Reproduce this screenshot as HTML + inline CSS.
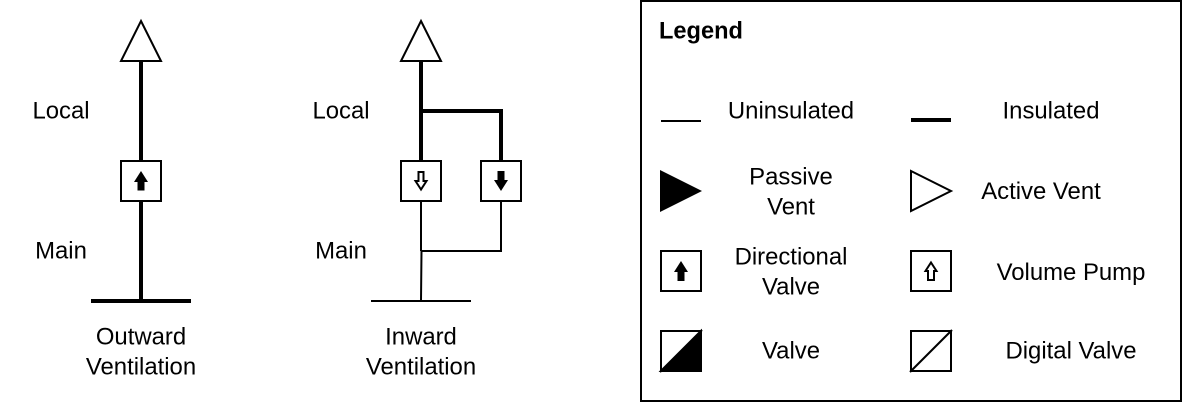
<!DOCTYPE html>
<html>
<head>
<meta charset="utf-8">
<style>
html,body{margin:0;padding:0;background:#fff;width:1182px;height:402px;overflow:hidden}
svg{display:block}
text{font-family:"Liberation Sans",Arial,sans-serif;font-size:23.9px;fill:#000;text-anchor:middle}
</style>
</head>
<body>
<svg width="1182" height="402" viewBox="0 0 1182 402" xmlns="http://www.w3.org/2000/svg">
<g fill="none" stroke="#000" stroke-width="2">
<!-- Outward -->
<path d="M141 21 L161 61 L121 61 Z" fill="#fff"/>
<path d="M141 61 V161 M141 201 V301" stroke-width="4"/>
<path d="M91 301 H191" stroke-width="4"/>
<rect x="121" y="161" width="40" height="40" fill="#fff"/>
<path d="M141 171 L148 182 H144.5 V190.5 H137.5 V182 H134 Z" fill="#000" stroke="none"/>
<!-- Inward -->
<path d="M421 61 V161" stroke-width="4"/>
<path d="M421 111 H501 V161" stroke-width="4"/>
<path d="M421 201 V251 M501 201 V251 H421 M421.5 251 L421 301"/>
<path d="M371 301 H471"/>
<path d="M421 21 L441 61 L401 61 Z" fill="#fff"/>
<rect x="401" y="161" width="40" height="40" fill="#fff"/>
<rect x="481" y="161" width="40" height="40" fill="#fff"/>
<path d="M421 189.5 L415.5 181 H418.5 V172 H423.5 V181 H426.5 Z" stroke-width="2"/>
<path d="M501 191 L508 180 H504.5 V171 H497.5 V180 H494 Z" fill="#000" stroke="none"/>
<!-- Legend frame -->
<rect x="641" y="1" width="540" height="400"/>
<path d="M661 121 H701"/>
<path d="M911 120 H951" stroke-width="4"/>
<path d="M660 170 L702 191 L660 212 Z" fill="#000" stroke="none"/>
<path d="M911 171 L951 191 L911 211 Z"/>
<rect x="661" y="251" width="40" height="40"/>
<path d="M681 261 L688 272 H684.5 V281 H677.5 V272 H674 Z" fill="#000" stroke="none"/>
<rect x="911" y="251" width="40" height="40"/>
<path d="M931 262.5 L936.5 271 H934 V280 H928 V271 H925.5 Z" stroke-width="2"/>
<rect x="661" y="331" width="40" height="40"/>
<path d="M661 371 L701 331 V371 Z" fill="#000"/>
<path d="M660 372 L702 330"/>
<rect x="911" y="331" width="40" height="40"/>
<path d="M910 372 L952 330"/>
</g>
<text x="61" y="118.5">Local</text>
<text x="61" y="258.5">Main</text>
<text x="141" y="344.5">Outward</text>
<text x="141" y="374.5">Ventilation</text>
<text x="341" y="118.5">Local</text>
<text x="341" y="258.5">Main</text>
<text x="421" y="344.5">Inward</text>
<text x="421" y="374.5">Ventilation</text>
<text x="659" y="38.5" style="text-anchor:start;font-weight:bold;font-size:23.6px">Legend</text>
<text x="791" y="118.5">Uninsulated</text>
<text x="1051" y="118.5">Insulated</text>
<text x="791" y="184.5">Passive</text>
<text x="791" y="214.5">Vent</text>
<text x="1041" y="199">Active Vent</text>
<text x="791" y="264.5">Directional</text>
<text x="791" y="294.5">Valve</text>
<text x="1071" y="280">Volume Pump</text>
<text x="791" y="358.5">Valve</text>
<text x="1071" y="358.5">Digital Valve</text>
</svg>
</body>
</html>
